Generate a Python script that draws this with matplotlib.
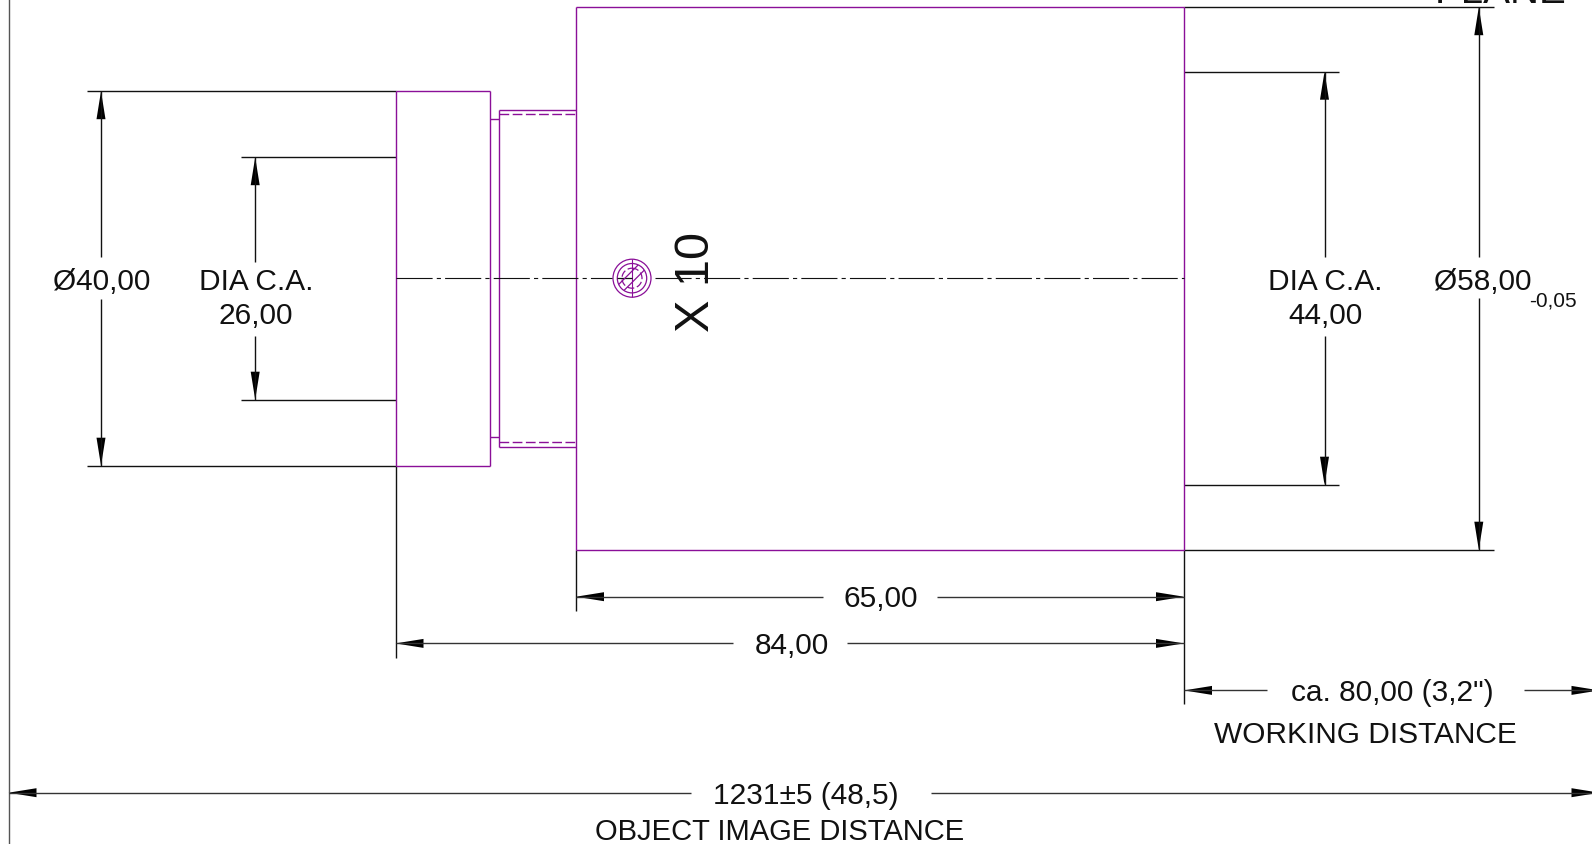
import matplotlib
matplotlib.use('Agg')
import matplotlib.pyplot as plt
from matplotlib.patches import Circle
import numpy as np

W, H = 1592, 845
PURPLE = '#8a0f98'
BLACK = '#111111'

plt.rcParams['font.family'] = ['Liberation Sans', 'DejaVu Sans']
plt.rcParams['lines.scale_dashes'] = False

# outline of the lens, (x0, y0, x1, y1) in drawing pixels
body_lines = [
	(576.5, 7.5, 1184.5, 7.5), (576.5, 550, 1184.5, 550), (576.5, 7.5, 576.5, 550), (1184.5, 7.5, 1184.5, 550),
	(396, 91.5, 490, 91.5), (396, 466, 490, 466), (396, 91.5, 396, 466), (490, 91.5, 490, 466),
	(499, 110, 576.5, 110), (499, 447.5, 576.5, 447.5), (499, 110, 499, 447.5),
	(490, 119.5, 499, 119.5), (490, 437.5, 499, 437.5),
]
thread_lines = [(499, 114.5, 576.5, 114.5), (499, 442.5, 576.5, 442.5)]

# extension lines
ext_lines = [
	(87, 91.5, 396, 91.5), (87, 466, 396, 466),
	(241.5, 157.5, 396, 157.5), (241.5, 400, 396, 400),
	(1184.5, 72, 1339, 72), (1184.5, 485, 1339, 485),
	(1184.5, 7.5, 1494, 7.5), (1184.5, 550, 1494, 550),
	(576.5, 550, 576.5, 611), (396, 466, 396, 658), (1184.5, 550, 1184.5, 704),
]
border_x = 9

# dimension lines: fixed coordinate, start, end, gap start, gap end
v_dims = [
	(101.5, 91.5, 466, 257, 299),
	(255.7, 157.5, 400, 262, 336),
	(1325, 72, 485, 257, 336),
	(1479.3, 7.5, 550, 257, 298),
]
h_dims = [
	(597, 576.5, 1184.5, 823, 937),
	(643.7, 396, 1184.5, 733, 847),
	(690.7, 1184.5, 1600, 1267, 1524),
	(793, 9, 1600, 691, 931),
]

# text, x centre, baseline y, size
labels = [
	('Ø40,00', 102.5, 289, 21.5),
	('DIA C.A.', 256.5, 289, 21.5),
	('26,00', 256.5, 323.5, 21.5),
	('DIA C.A.', 1326, 289, 21.5),
	('44,00', 1326, 323.5, 21.5),
	('Ø58,00', 1483.5, 289, 21.5),
	('-0,05', 1553, 306, 15),
	('65,00', 881, 606.5, 21.5),
	('84,00', 792, 653.5, 21.5),
	('ca. 80,00 (3,2")', 1393, 700.5, 21.5),
	('WORKING DISTANCE', 1366, 742.5, 21.5),
	('1231±5 (48,5)', 806.5, 803.5, 21.5),
	('OBJECT IMAGE DISTANCE', 780.5, 839.5, 21),
	('PLANE', 1501, 2, 29),
]

axis_y = 278.5
axis_spans = [(396, 612), (655, 1184.5)]
circle_xy = (632.5, 278.5)
circle_radii = [19, 14.7]
hatch_offsets = [-5, 3]


def seg(ax, s, color=BLACK, lw=1.0, **kw):
	ax.plot([s[0], s[2]], [s[1], s[3]], color=color, lw=lw, solid_capstyle='butt', **kw)


def arrow(ax, x, y, dx, dy, length=28, half=4.5):
	# tip at x, y pointing along dx, dy
	bx, by = x - dx * length, y - dy * length
	ax.fill([x, bx - dy * half, bx + dy * half], [y, by - dx * half, by + dx * half], color='black', lw=0)


def main():
	fig = plt.figure(figsize=(W / 100, H / 100), dpi=100)
	ax = fig.add_axes([0, 0, 1, 1])
	ax.set_xlim(0.5, W + 0.5)
	ax.set_ylim(H - 0.7, -0.7)
	ax.axis('off')

	ax.plot([border_x, border_x], [0, 843], color='#555555', lw=1.0)

	for s in ext_lines:
		seg(ax, s)
	for s in body_lines:
		seg(ax, s, color=PURPLE)
	for s in thread_lines:
		ax.plot([s[0], s[2]], [s[1], s[3]], color=PURPLE, lw=1.0, dashes=(7, 2.5))

	for x, y0, y1, g0, g1 in v_dims:
		seg(ax, (x, y0, x, g0))
		seg(ax, (x, g1, x, y1))
		arrow(ax, x, y0, 0, -1)
		arrow(ax, x, y1, 0, 1)
	for y, x0, x1, g0, g1 in h_dims:
		seg(ax, (x0, y, g0, y), color='#333333')
		seg(ax, (g1, y, x1, y), color='#333333')
		arrow(ax, x0, y, -1, 0)
		arrow(ax, x1, y, 1, 0)

	# centre line
	for x0, x1 in axis_spans:
		ax.plot([x0, x1], [axis_y, axis_y], color=BLACK, lw=0.8, dashes=(26, 3, 3, 3))

	# small section mark on the axis
	cx, cy = circle_xy
	for r in circle_radii:
		ax.add_patch(Circle((cx, cy), r, fill=False, ec=PURPLE, lw=0.9))
	ax.add_patch(Circle((cx, cy), 10, fill=False, ec=PURPLE, lw=0.9, ls=(0, (5, 2))))
	seg(ax, (cx, cy - 19, cx, cy + 19), color=PURPLE, lw=0.8)
	seg(ax, (cx - 15, cy, cx, cy), lw=0.9)
	for off in hatch_offsets:
		t = np.sqrt(14.7 ** 2 - off ** 2) / np.sqrt(2)
		mx, my = cx + off / np.sqrt(2), cy + off / np.sqrt(2)
		seg(ax, (mx - t, my + t, mx + t, my - t), color=PURPLE, lw=0.9)

	for txt, x, y, size in labels:
		ax.text(x, y, txt, fontsize=size, ha='center', va='baseline', color='#111111')
	ax.text(697, 281.5, 'X 10', fontsize=35, rotation=90, ha='center', va='center', color='#111111')

	fig.savefig('out.png', dpi=100)


if __name__ == '__main__':
	main()
